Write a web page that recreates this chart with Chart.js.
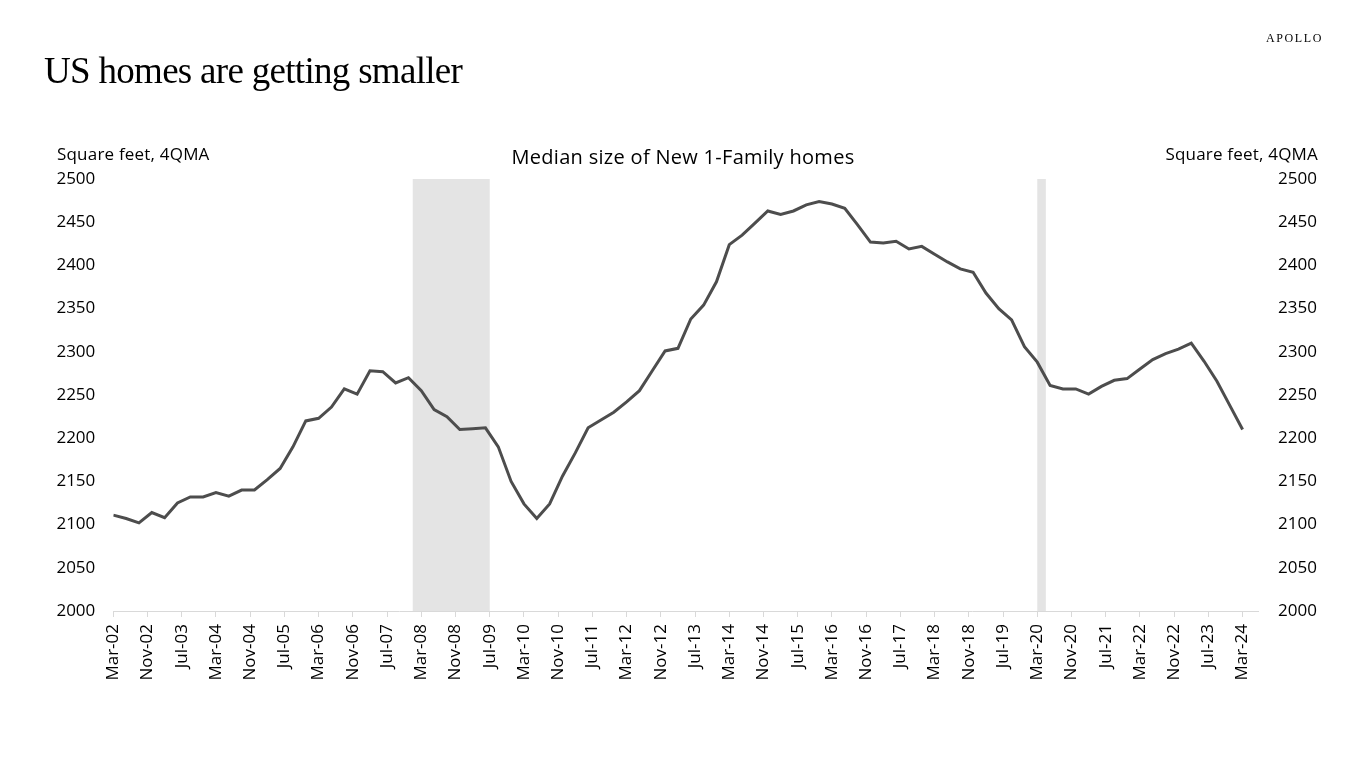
<!DOCTYPE html>
<html>
<head>
<meta charset="utf-8">
<script src="https://cdn.jsdelivr.net/npm/chart.js@4"></script>
<style>
  html, body { margin: 0; padding: 0; background: #fff; }
  #wrap { position: relative; width: 1366px; height: 768px; overflow: hidden; }
  canvas { position: absolute; left: 0; top: 0; }
  .txt { position: absolute; white-space: nowrap; color: #000; }
  #apollo { right: 43px; top: 31px; font-family: "Liberation Serif", serif; font-size: 12px; letter-spacing: 1.6px; }
  #title { left: 44px; top: 49px; font-family: "Liberation Serif", serif; font-size: 37px; letter-spacing: -0.7px; }
  #ylab { left: 57px; top: 142px; font-family: "Open Sans", sans-serif; font-size: 17px; letter-spacing: 0.2px; }
  #ylabR { right: 48px; top: 142px; font-family: "Open Sans", sans-serif; font-size: 17px; letter-spacing: 0.2px; }
  #ctitle { left: 683px; transform: translateX(-50%); top: 143px; font-family: "Open Sans", sans-serif; font-size: 20px; letter-spacing: 0.3px; }
</style>
</head>
<body>
<div id="wrap">
  <canvas id="c" width="1366" height="768"></canvas>
  <div class="txt" id="apollo">APOLLO</div>
  <div class="txt" id="title">US homes are getting smaller</div>
  <div class="txt" id="ylab">Square feet, 4QMA</div>
  <div class="txt" id="ylabR">Square feet, 4QMA</div>
  <div class="txt" id="ctitle">Median size of New 1-Family homes</div>
</div>
<script>
// Tick labels on the x axis (every 8 months from Mar-02)
const tickLabels = ['Mar-02','Nov-02','Jul-03','Mar-04','Nov-04','Jul-05','Mar-06','Nov-06','Jul-07',
  'Mar-08','Nov-08','Jul-09','Mar-10','Nov-10','Jul-11','Mar-12','Nov-12','Jul-13','Mar-14','Nov-14',
  'Jul-15','Mar-16','Nov-16','Jul-17','Mar-18','Nov-18','Jul-19','Mar-20','Nov-20','Jul-21','Mar-22',
  'Nov-22','Jul-23','Mar-24'];
const tickStepMonths = 8;

// Quarterly median size (sq ft, 4QMA), Mar-02 .. Mar-24
const sizes = [2111,2107,2102,2114,2108,2125,2132,2132,2137,2133,2140,2140,2152,2165,2190,2220,2223,2236,
  2257,2251,2278,2277,2264,2270,2255,2233,2225,2210,2211,2212,2190,2150,2124,2107,2124,2156,2183,2212,
  2221,2230,2242,2255,2278,2301,2304,2338,2354,2381,2424,2435,2449,2463,2459,2463,2470,2474,2471,2466,
  2447,2427,2426,2428,2419,2422,2413,2404,2396,2392,2368,2350,2337,2306,2288,2261,2257,2257,2251,2260,
  2267,2269,2280,2291,2298,2303,2310,2289,2266,2238,2210];
const monthsPerPoint = 3;

// Recession shading (from / to)
const recessionFrom = ['Jan-08', 'Mar-20'];
const recessionTo   = ['Jul-09', 'May-20'];

// y-axis ticks
const yMin = 2000, yMax = 2500, yStep = 50;

const MONTHS = ['Jan','Feb','Mar','Apr','May','Jun','Jul','Aug','Sep','Oct','Nov','Dec'];
function monthIndex(lbl) { // months since Mar-02
  const [m, y] = lbl.split('-');
  return (2000 + parseInt(y, 10) - 2002) * 12 + MONTHS.indexOf(m) - 2;
}

const points = sizes.map((v, k) => ({ x: k * monthsPerPoint, y: v }));

const shadePlugin = {
  id: 'shade',
  beforeDatasetsDraw(chart) {
    const { ctx, chartArea, scales } = chart;
    ctx.save();
    ctx.fillStyle = '#e4e4e4';
    recessionFrom.forEach((f, i) => {
      const x1 = scales.x.getPixelForValue(monthIndex(f));
      const x2 = scales.x.getPixelForValue(monthIndex(recessionTo[i]));
      ctx.fillRect(x1, chartArea.top, x2 - x1, chartArea.bottom - chartArea.top);
    });
    ctx.restore();
  }
};

const yTickFont = { family: 'Open Sans', size: 17 };

new Chart(document.getElementById('c'), {
  type: 'line',
  data: {
    datasets: [{
      data: points,
      borderColor: '#4d4d4d',
      borderWidth: 3,
      pointRadius: 0,
      tension: 0,
      fill: false,
      yAxisID: 'y'
    }, {
      data: points,
      borderWidth: 0,
      pointRadius: 0,
      showLine: false,
      yAxisID: 'y2'
    }]
  },
  options: {
    responsive: false,
    animation: false,
    layout: { padding: { left: 0, right: 0, top: 179, bottom: 67 } },
    plugins: { legend: { display: false }, tooltip: { enabled: false } },
    scales: {
      x: {
        type: 'linear',
        min: 0,
        max: 267.6,
        border: { display: true, color: '#d9d9d9', width: 1 },
        grid: { display: true, drawOnChartArea: false, drawTicks: true, tickLength: 6, color: '#d9d9d9' },
        ticks: {
          stepSize: tickStepMonths,
          includeBounds: false,
          autoSkip: false,
          minRotation: 90,
          maxRotation: 90,
          padding: 7,
          color: '#000',
          font: { family: 'Open Sans', size: 17 },
          callback: (v) => tickLabels[Math.round(v / tickStepMonths)] ?? ''
        },
        afterFit: (s) => { s.height = 90; }
      },
      y: {
        position: 'left',
        min: yMin, max: yMax,
        border: { display: false },
        grid: { display: false, drawTicks: false },
        ticks: { stepSize: yStep, padding: 18, color: '#000', font: yTickFont, callback: (v) => String(v) },
        afterFit: (s) => { s.width = 113.3; }
      },
      y2: {
        position: 'right',
        min: yMin, max: yMax,
        border: { display: false },
        grid: { display: false, drawTicks: false },
        ticks: { stepSize: yStep, padding: 20, color: '#000', font: yTickFont, callback: (v) => String(v) },
        afterFit: (s) => { s.width = 108; }
      }
    }
  },
  plugins: [shadePlugin]
});
</script>
</body>
</html>
